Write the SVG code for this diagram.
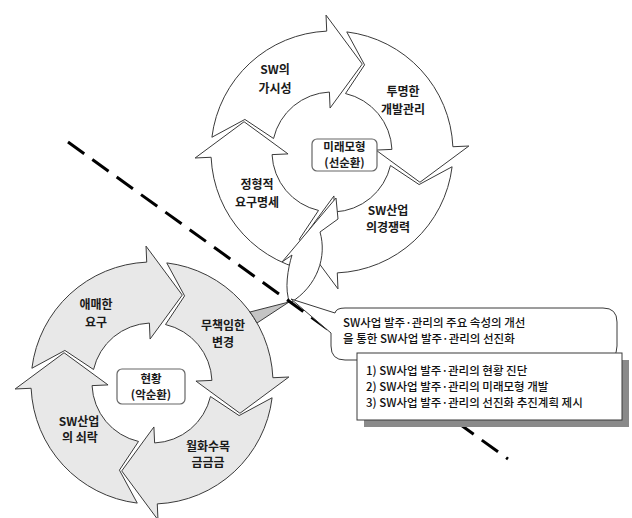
<svg xmlns="http://www.w3.org/2000/svg" width="632" height="518" viewBox="0 0 632 518">
<style>
.arw{stroke:#3a3a3a;stroke-width:1}
.top .arw{fill:#ffffff}
.bot .arw{fill:#e8e8e8}
.lbl{font-family:"Noto Sans CJK KR","Noto Sans",sans-serif;font-size:12px;font-weight:700;fill:#1a1a1a;text-anchor:middle}
.sm{font-size:11.5px}
.box{fill:#ffffff;stroke:#666;stroke-width:1.2}
.co{font-family:"Noto Sans CJK KR","Noto Sans",sans-serif;font-size:11.5px;font-weight:500;fill:#111}
.ln{fill:#fff;stroke:#3a3a3a;stroke-width:1}
</style>
<defs>
<path id="seg" d="M -120.10,-14.75 A 121 121 0 0 1 -5.28,-120.88 L -5.98,-136.87 L 30.28,-87.93 L -1.92,-43.96 L -2.62,-59.94 A 60 60 0 0 0 -58.46,-13.50 L -87.11,-32.57 Z"/>
</defs>
<rect width="632" height="518" fill="#fff"/>

<g class="top" id="future-cycle">
<g id="f-visibility"><use href="#seg" class="arw" transform="translate(332,152)"/>
<text class="lbl" x="275" y="74">SW의</text><text class="lbl" x="275" y="93">가시성</text></g>
<g id="f-transparent"><use href="#seg" class="arw" transform="translate(332,152) rotate(90)"/>
<text class="lbl" x="403" y="96">투명한</text><text class="lbl" x="403" y="114">개발관리</text></g>
<g id="f-competitive"><use href="#seg" class="arw" transform="translate(332,152) rotate(180)"/>
<text class="lbl" x="388" y="215">SW산업</text><text class="lbl" x="388" y="232">의경쟁력</text></g>
<g id="f-formal"><use href="#seg" class="arw" transform="translate(332,152) rotate(270)"/>
<text class="lbl" x="257" y="189">정형적</text><text class="lbl" x="257" y="207">요구명세</text></g>
<g id="f-center"><rect class="box" x="312" y="139" width="65" height="32" rx="5"/>
<text class="lbl sm" x="344.5" y="151">미래모형</text><text class="lbl sm" x="344.5" y="167">(선순환)</text></g>
</g>

<g class="bot" id="current-cycle">
<g id="c-vague"><use href="#seg" class="arw" transform="translate(152,383)"/>
<text class="lbl" x="96" y="309">애매한</text><text class="lbl" x="96" y="327">요구</text></g>
<g id="c-change"><use href="#seg" class="arw" transform="translate(152,383) rotate(90)"/>
<text class="lbl" x="223" y="330">무책임한</text><text class="lbl" x="223" y="347">변경</text></g>
<g id="c-overtime"><use href="#seg" class="arw" transform="translate(152,383) rotate(180)"/>
<text class="lbl" x="208" y="451">월화수목</text><text class="lbl" x="208" y="467">금금금</text></g>
<g id="c-decline"><use href="#seg" class="arw" transform="translate(152,383) rotate(270)"/>
<text class="lbl" x="79" y="426">SW산업</text><text class="lbl" x="80" y="442">의 쇠락</text></g>
<g id="c-center"><rect class="box" x="117" y="369" width="68" height="35" rx="5"/>
<text class="lbl sm" x="151" y="383">현황</text><text class="lbl sm" x="151" y="399">(악순환)</text></g>
</g>

<g id="connectors">
<g id="transition-arrow">
<path d="M 250,312 L 289,302 L 257,323 A 121 121 0 0 0 250,312 Z" fill="#c4c4c4" stroke="#3a3a3a" stroke-width="1"/>
<path class="ln" d="M 290,303 C 284,290 288,268 292,255 L 282,262 L 336,198 L 338,219 L 320,232 C 327,256 318,286 290,303 Z"/>
</g>
<line id="divider" x1="68" y1="142" x2="508" y2="459" stroke="#000" stroke-width="3" stroke-dasharray="20 10"/>
</g>

<g id="callout">
<path class="ln" d="M 345,308 L 603,308 Q 617,308 617,322 L 617,346 Q 617,360 603,360 L 345,360 Q 331,360 331,346 L 331,333 L 291,299 L 335,313 Q 336,308 345,308 Z"/>
<text class="co" x="343" y="327">SW사업 발주·관리의 주요 속성의 개선</text>
<text class="co" x="343" y="343">을 통한 SW사업 발주·관리의 선진화</text>
</g>

<g id="tasks">
<rect x="364" y="360" width="265" height="67" fill="#8a8a8a"/>
<rect x="357" y="353" width="265" height="67" fill="#fff" stroke="#3a3a3a" stroke-width="1"/>
<text class="co" x="366" y="375">1) SW사업 발주·관리의 현황 진단</text>
<text class="co" x="366" y="391">2) SW사업 발주·관리의 미래모형 개발</text>
<text class="co" x="366" y="407">3) SW사업 발주·관리의 선진화 추진계획 제시</text>
</g>
</svg>
